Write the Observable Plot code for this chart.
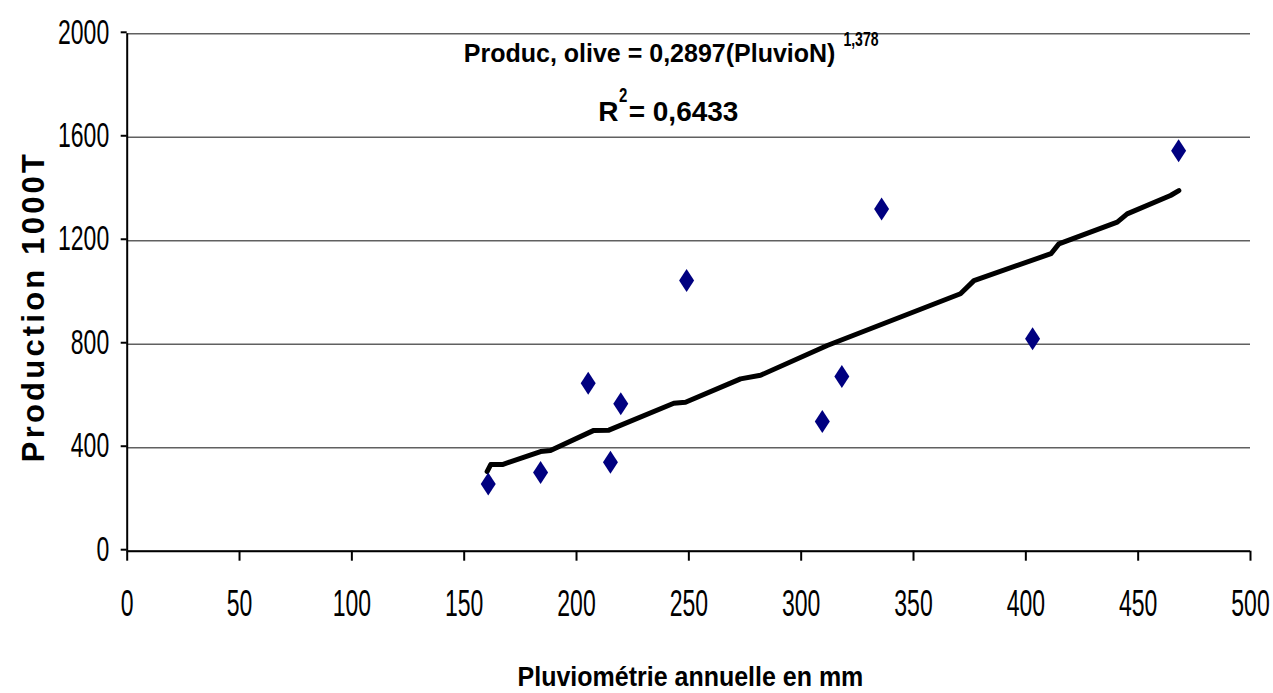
<!DOCTYPE html>
<html>
<head>
<meta charset="utf-8">
<script src="https://cdn.jsdelivr.net/npm/d3@7"></script>
<script src="https://cdn.jsdelivr.net/npm/@observablehq/plot@0.6"></script>
<style>
  html, body { margin: 0; padding: 0; background: #fff; }
  #chart svg { display: block; }
</style>
</head>
<body>
<div id="chart"></div>
<script>
// ---- data ----
const pluviometrie = [160.7, 184.0, 205.2, 215.1, 219.7, 249.0, 309.4, 318.1, 335.8, 403.0, 468.0];
const production   = [260, 304, 649, 344, 570, 1046, 501, 675, 1323, 821, 1548];

// trend line vertices as drawn in the picture
const trendPluvio     = [160.2, 161.8, 167.0, 184.0, 188.4, 207.7, 214.4, 243.3, 248.5, 273.0, 281.9, 311.6, 370.9, 376.9, 411.2, 414.7, 440.7, 445.1, 464.4, 468.1];
const trendProduction = [308, 335, 335, 385, 389, 467, 468, 572, 576, 666, 680, 795, 995, 1046, 1150, 1188, 1272, 1304, 1375, 1394];

const xTicks = [0, 50, 100, 150, 200, 250, 300, 350, 400, 450, 500];
const yTicks = [0, 400, 800, 1200, 1600, 2000];

const equationText = "Produc, olive = 0,2897(PluvioN)";
const exponentText = "1,378";
const r2Letter = "R";
const r2Exponent = "2";
const r2Value = "= 0,6433";
const xLabel = "Pluviométrie annuelle en mm";
const yLabel = "Production 1000T";

// ---- build ----
const points = pluviometrie.map((x, i) => ({x, y: production[i]}));
const trend = trendPluvio.map((x, i) => ({x, y: trendProduction[i]}));

const tallDiamond = {
  draw(ctx) {
    const w = 7.5, h = 11.5;
    ctx.moveTo(0, -h); ctx.lineTo(w, 0); ctx.lineTo(0, h); ctx.lineTo(-w, 0); ctx.closePath();
  }
};

const font = "'Liberation Sans', Arial, Helvetica, sans-serif";

const chart = Plot.plot({
  width: 1273,
  height: 693,
  marginTop: 33.3,
  marginLeft: 126.7,
  marginRight: 23,
  marginBottom: 142.3,
  style: {fontFamily: font, color: "#000", background: "#fff", overflow: "visible"},
  x: {domain: [0, 500]},
  y: {domain: [0, 2000]},
  marks: [
    Plot.ruleY(yTicks, {stroke: "#606060", strokeWidth: 1.6}),
    Plot.axisX({ticks: xTicks, tickSize: 10, tickPadding: 29, fontSize: 23, label: null, strokeWidth: 2, tickFormat: d => String(d)}),
    Plot.axisY({ticks: yTicks, tickSize: 6, tickPadding: 12, fontSize: 23, label: null, strokeWidth: 2, tickFormat: d => String(d), dy: -1.5}),
    Plot.ruleX([0], {stroke: "#000", strokeWidth: 2}),
    Plot.ruleY([0], {stroke: "#000", strokeWidth: 2}),
    Plot.line(trend, {x: "x", y: "y", stroke: "#000", strokeWidth: 5, strokeLinejoin: "round", strokeLinecap: "round"}),
    Plot.dot(points, {x: "x", y: "y", r: 6, symbol: tallDiamond, fill: "#000080", stroke: null}),
    // equation annotation
    Plot.text([equationText], {text: d => d, frameAnchor: "top", textAnchor: "end", lineAnchor: "bottom", dx: 146.6, dy: 28.4, fontSize: 25, fontWeight: "bold", fill: "#000"}),
    Plot.text([exponentText], {text: d => d, frameAnchor: "top", textAnchor: "start", lineAnchor: "bottom", dx: 154.6, dy: 11.7, fontSize: 14, fontWeight: "bold", fill: "#000"}),
    Plot.text([r2Letter], {text: d => d, frameAnchor: "top", textAnchor: "end", lineAnchor: "bottom", dx: -70.4, dy: 86.7, fontSize: 28, fontWeight: "bold", fill: "#000"}),
    Plot.text([r2Exponent], {text: d => d, frameAnchor: "top", textAnchor: "start", lineAnchor: "bottom", dx: -69.8, dy: 68.5, fontSize: 15, fontWeight: "bold", fill: "#000"}),
    Plot.text([r2Value], {text: d => d, frameAnchor: "top", textAnchor: "end", lineAnchor: "bottom", dx: 49.6, dy: 86.7, fontSize: 28, fontWeight: "bold", fill: "#000"}),
    // axis titles
    Plot.text([xLabel], {text: d => d, frameAnchor: "bottom", textAnchor: "middle", lineAnchor: "bottom", dx: 1.6, dy: 134.3, fontSize: 25, fontWeight: "bold", fill: "#000"}),
    Plot.text([yLabel], {text: d => d, frameAnchor: "left", textAnchor: "middle", lineAnchor: "bottom", rotate: -90, dx: -83.4, dy: 14, fontSize: 31, fontWeight: "bold", fill: "#000"})
  ]
});

document.getElementById("chart").appendChild(chart);

function textsWith(content) {
  return d3.select(chart).selectAll("text").filter(function () { return this.textContent === content; });
}

// letter spacing for the y title
textsWith(yLabel).style("letter-spacing", "3.2px");

// vertical stretch of condensed-looking glyphs, about each text's own anchor
function stretchSel(sel, k) {
  sel.each(function () {
    const t = this.getAttribute("transform");
    if (t) {
      this.setAttribute("transform", t + ` scale(1,${k})`);
    } else {
      const x = parseFloat(this.getAttribute("x"));
      const y = parseFloat(this.getAttribute("y"));
      if (!isNaN(x) && !isNaN(y)) {
        this.removeAttribute("x"); this.removeAttribute("y");
        this.setAttribute("transform", `translate(${x},${y}) scale(1,${k})`);
      } else {
        this.setAttribute("transform", `scale(1,${k})`);
      }
    }
  });
}
stretchSel(d3.select(chart).selectAll('g[aria-label="x-axis tick label"] text'), 1.6);
stretchSel(d3.select(chart).selectAll('g[aria-label="y-axis tick label"] text'), 1.52);
stretchSel(textsWith(exponentText), 1.4);
stretchSel(textsWith(r2Exponent), 1.4);
stretchSel(textsWith(xLabel), 1.1);
</script>
</body>
</html>
